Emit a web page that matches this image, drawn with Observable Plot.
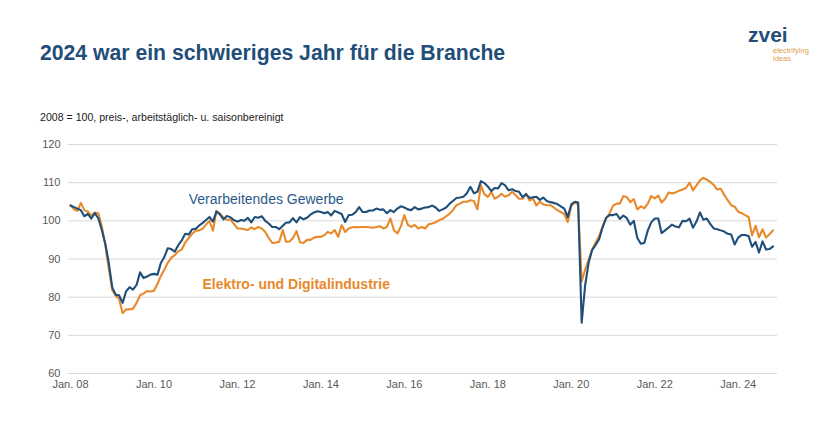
<!DOCTYPE html>
<html>
<head>
<meta charset="utf-8">
<script src="https://cdn.jsdelivr.net/npm/d3@7"></script>
<script src="https://cdn.jsdelivr.net/npm/@observablehq/plot@0.6"></script>
<style>
  html, body { margin: 0; padding: 0; background: #ffffff; }
  body { width: 840px; height: 445px; position: relative; overflow: hidden; font-family: "Liberation Sans", Arial, sans-serif; }
  #title { position: absolute; left: 40px; top: 42px; font-size: 21.2px; font-weight: bold; color: #1f4e79; line-height: 22px; white-space: nowrap; }
  #subtitle { position: absolute; left: 40px; top: 111px; font-size: 10.6px; color: #222222; line-height: 12px; white-space: nowrap; }
  #logo { position: absolute; left: 748px; top: 24px; }
  #logo .z { font-size: 21px; font-weight: bold; color: #1f4e79; line-height: 22px; }
  #logo .s { position: absolute; left: 25px; top: 23px; font-size: 7.5px; color: #dca04c; line-height: 8px; white-space: nowrap; }
  #chart { position: absolute; left: 0; top: 0; }
</style>
</head>
<body>
<div id="chart"></div>
<div id="title">2024 war ein schwieriges Jahr für die Branche</div>
<div id="subtitle">2008 = 100, preis-, arbeitstäglich- u. saisonbereinigt</div>
<div id="logo"><div class="z">zvei</div><div class="s">electrifying<br>ideas</div></div>
<script>
// Monthly index values, Jan 2008 – Nov 2024 (2008 = 100)
const verarbeitendesGewerbe = [
  104.0, 103.6, 103.2, 102.8, 101.2, 101.8, 100.6, 102.0, 100.6, 97.6, 94.0, 89.0,   // 2008
  82.5, 80.6, 80.5, 78.5, 81.5, 82.6, 82.0, 83.2, 86.5, 85.0, 85.4, 85.9,           // 2009
  86.1, 85.9, 88.9, 90.5, 92.8, 92.6, 91.9, 93.6, 94.9, 96.6, 96.4, 97.8,           // 2010
  97.9, 98.8, 99.4, 100.2, 101.0, 99.8, 102.4, 101.7, 100.4, 101.3, 100.9, 100.2,   // 2011
  99.8, 100.2, 100.0, 100.8, 99.6, 101.0, 100.8, 101.2, 100.0, 99.3, 98.4, 98.4,    // 2012
  97.8, 98.7, 99.5, 99.6, 100.7, 99.6, 101.0, 100.4, 100.8, 101.6, 102.2, 102.5,    // 2013
  102.3, 102.0, 102.3, 101.4, 102.6, 102.2, 101.8, 99.7, 101.5, 101.6, 102.3, 103.6, // 2014
  102.3, 102.3, 102.7, 102.7, 103.2, 102.9, 103.0, 102.0, 102.8, 102.3, 103.2, 103.8, // 2015
  103.5, 103.0, 102.8, 103.6, 103.0, 103.2, 103.5, 103.6, 104.0, 103.5, 102.6, 103.0, // 2016
  103.5, 104.5, 105.2, 106.0, 106.1, 106.3, 107.2, 108.9, 107.2, 107.6, 110.4, 109.9, // 2017
  109.0, 107.8, 108.6, 108.5, 109.9, 109.3, 108.0, 108.3, 107.8, 107.6, 106.2, 107.0, // 2018
  106.0, 106.2, 106.3, 105.5, 106.1, 105.2, 104.9, 104.7, 104.4, 103.8, 103.2, 101.0, // 2019
  104.3, 105.0, 104.8, 73.3, 83.0, 89.0, 92.3, 93.7, 95.2, 98.3, 100.8, 101.5,       // 2020
  101.5, 101.8, 100.5, 101.4, 100.7, 99.0, 100.0, 95.5, 94.0, 94.2, 97.5, 99.6,      // 2021
  100.6, 100.6, 96.8, 97.5, 98.2, 99.0, 98.5, 98.3, 100.0, 99.9, 100.6, 98.2,        // 2022
  99.8, 102.2, 100.3, 100.6, 99.2, 98.0, 97.8, 97.5, 97.2, 96.6, 96.4, 93.8,         // 2023
  95.6, 96.3, 96.3, 96.0, 93.2, 94.5, 91.7, 94.6, 92.5, 92.6, 93.3                   // 2024
];
const elektroDigital = [
  104.1, 103.0, 102.6, 104.7, 102.8, 102.4, 101.4, 102.2, 102.0, 98.5, 93.5, 87.5,  // 2008
  81.8, 80.3, 79.6, 75.8, 76.8, 76.8, 77.0, 78.5, 80.5, 81.0, 81.6, 81.5,           // 2009
  81.7, 83.5, 85.5, 87.2, 89.0, 90.3, 91.0, 92.0, 92.5, 94.3, 95.5, 96.6,           // 2010
  97.4, 97.5, 97.9, 99.0, 100.0, 97.4, 102.6, 101.9, 100.8, 100.3, 100.3, 99.2,     // 2011
  98.0, 98.0, 97.8, 97.6, 98.3, 97.8, 98.4, 98.0, 97.1, 95.5, 94.2, 94.3,           // 2012
  94.5, 97.6, 94.5, 94.6, 95.5, 97.3, 94.4, 94.2, 95.0, 95.0, 95.6, 95.8,           // 2013
  95.8, 96.3, 97.1, 96.7, 97.6, 95.8, 98.9, 97.1, 98.0, 98.3, 98.4, 98.3,           // 2014
  98.4, 98.4, 98.3, 98.2, 98.4, 98.6, 98.0, 98.4, 100.6, 97.6, 96.7, 98.5,          // 2015
  101.5, 98.9, 98.4, 98.9, 98.0, 98.4, 98.0, 99.1, 99.3, 99.6, 100.2, 100.5,        // 2016
  101.2, 101.9, 102.8, 104.1, 104.5, 105.0, 105.0, 105.4, 105.2, 103.0, 109.3, 107.0, // 2017
  106.3, 107.6, 105.8, 106.3, 107.1, 106.3, 106.7, 107.6, 106.7, 105.8, 105.8, 107.1, // 2018
  105.3, 105.8, 104.0, 105.0, 104.3, 104.1, 104.1, 103.5, 102.8, 102.3, 101.8, 99.7,  // 2019
  103.9, 104.8, 104.3, 84.1, 87.2, 89.8, 92.5, 94.3, 96.0, 98.5, 100.6, 102.0,       // 2020
  104.0, 104.5, 104.5, 106.5, 106.2, 104.9, 105.7, 103.0, 103.8, 103.3, 104.5, 106.5, // 2021
  105.9, 106.6, 104.8, 105.7, 107.4, 107.2, 107.4, 107.9, 108.2, 108.6, 110.0, 108.0, // 2022
  109.3, 110.6, 111.3, 110.8, 110.2, 109.4, 108.2, 108.4, 106.8, 105.4, 104.1, 103.7, // 2023
  102.4, 102.0, 101.5, 101.0, 96.2, 98.7, 95.7, 97.8, 95.6, 96.5, 97.5                // 2024
];
const startYear = 2008;
const yTicks = [60, 70, 80, 90, 100, 110, 120];
const xTickYears = [2008, 2010, 2012, 2014, 2016, 2018, 2020, 2022, 2024];
const xTickLabels = ["Jan. 08", "Jan. 10", "Jan. 12", "Jan. 14", "Jan. 16", "Jan. 18", "Jan. 20", "Jan. 22", "Jan. 24"];
const labelVG = [{text: "Verarbeitendes Gewerbe", year: 2010, month: 10, value: 105.7}];
const labelED = [{text: "Elektro- und Digitalindustrie", year: 2011, month: 2, value: 83.3}];

const md = (y, m) => new Date(Date.UTC(y, m, 1));
const toRows = arr => arr.map((v, i) => ({date: md(startYear, i), value: v}));
const vgRows = toRows(verarbeitendesGewerbe);
const edRows = toRows(elektroDigital);
const xTicks = xTickYears.map(y => md(y, 0));
const tickLabelMap = new Map(xTicks.map((d, i) => [+d, xTickLabels[i]]));
const blue = "#1f4e79", orange = "#e8892b";

const chart = Plot.plot({
  width: 840,
  height: 445,
  marginTop: 144,
  marginBottom: 72,
  marginLeft: 70,
  marginRight: 63,
  style: {fontFamily: "Liberation Sans, Arial, sans-serif", fontSize: "11px", color: "#595959", background: "transparent"},
  x: {type: "utc", domain: [md(2008, 0), new Date(Date.UTC(2024, 11, 10))], ticks: xTicks, tickFormat: d => tickLabelMap.get(+d), tickSize: 0, tickPadding: 7, label: null},
  y: {domain: [60, 120], ticks: yTicks, tickSize: 0, tickPadding: 10, label: null},
  marks: [
    Plot.ruleY(yTicks, {stroke: "#d9d9d9", strokeWidth: 1, insetLeft: -2}),
    Plot.lineY(edRows, {x: "date", y: "value", stroke: orange, strokeWidth: 2.1}),
    Plot.lineY(vgRows, {x: "date", y: "value", stroke: blue, strokeWidth: 2.1}),
    Plot.text(labelVG, {x: d => md(d.year, d.month), y: "value", text: "text", textAnchor: "start", fill: "#2b5a8a", fontSize: 14}),
    Plot.text(labelED, {x: d => md(d.year, d.month), y: "value", text: "text", textAnchor: "start", fill: orange, fontWeight: "bold", fontSize: 14})
  ]
});
document.getElementById("chart").appendChild(chart);
</script>
</body>
</html>
